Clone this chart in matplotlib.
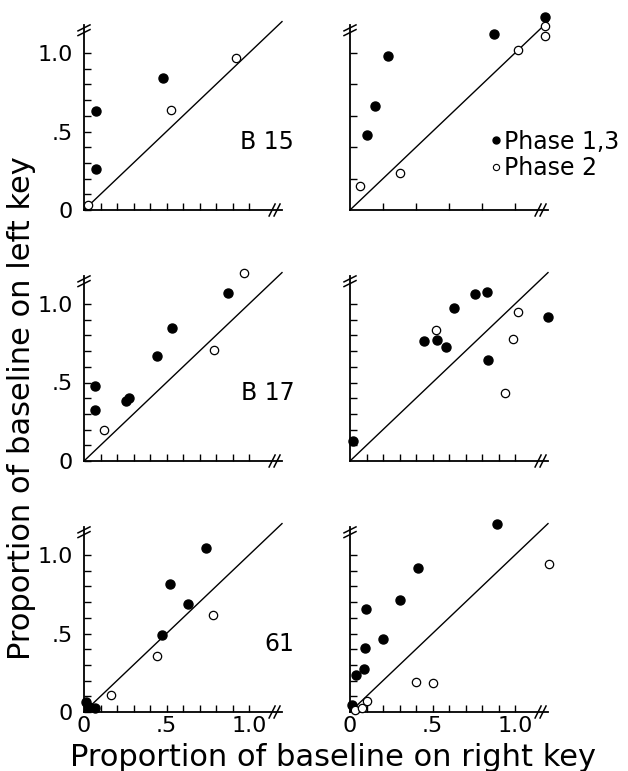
import numpy as np
import matplotlib
matplotlib.use("Agg")
import matplotlib.pyplot as plt
from matplotlib.lines import Line2D

plt.rcParams['font.family'] = ['DejaVu Sans']

# Valores (cheio = fase 1,3 ; vazio = fase 2)
b15_full_x = [0.07, 0.075, 0.48]
b15_full_y = [0.26, 0.63, 0.84]
b15_open_x = [0.025, 0.53, 0.92]
b15_open_y = [0.03, 0.64, 0.97]

tr_full_x = [0.10, 0.15, 0.23, 0.87, 1.18]
tr_full_y = [0.475, 0.665, 0.98, 1.12, 1.23]
tr_open_x = [0.06, 0.305, 1.02, 1.18, 1.18]
tr_open_y = [0.15, 0.235, 1.02, 1.17, 1.11]

b17_full_x = [0.065, 0.065, 0.255, 0.27, 0.44, 0.535, 0.87]
b17_full_y = [0.48, 0.325, 0.38, 0.40, 0.67, 0.85, 1.07]
b17_open_x = [0.12, 0.79, 0.97]
b17_open_y = [0.20, 0.705, 1.20]

mr_full_x = [0.018, 0.45, 0.527, 0.584, 0.632, 0.757, 0.828, 0.838, 1.20]
mr_full_y = [0.125, 0.767, 0.773, 0.727, 0.975, 1.063, 1.078, 0.646, 0.917]
mr_open_x = [0.52, 1.016, 0.99, 0.94]
mr_open_y = [0.835, 0.947, 0.775, 0.43]

s61_full_x = [0.015, 0.03, 0.065, 0.47, 0.52, 0.63, 0.74]
s61_full_y = [0.065, 0.035, 0.025, 0.49, 0.815, 0.685, 1.045]
s61_open_x = [0.165, 0.44, 0.78]
s61_open_y = [0.11, 0.355, 0.62]

br_full_x = [0.01, 0.035, 0.085, 0.09, 0.095, 0.20, 0.30, 0.415, 0.89]
br_full_y = [0.045, 0.235, 0.275, 0.405, 0.655, 0.465, 0.715, 0.915, 1.20]
br_open_x = [0.03, 0.075, 0.105, 0.40, 0.50, 1.205]
br_open_y = [0.01, 0.025, 0.068, 0.19, 0.185, 0.94]

names = ["B 15", "", "B 17", "", "61", ""]
tick_steps = [0.1, 0.2, 0.1, 0.1, 0.1, 0.1]
tick_labels = {0.0: "0", 0.5: ".5", 1.0: "1.0"}
legend_labels = ["Phase 1,3", "Phase 2"]

panels = [
    (b15_full_x, b15_full_y, b15_open_x, b15_open_y),
    (tr_full_x, tr_full_y, tr_open_x, tr_open_y),
    (b17_full_x, b17_full_y, b17_open_x, b17_open_y),
    (mr_full_x, mr_full_y, mr_open_x, mr_open_y),
    (s61_full_x, s61_full_y, s61_open_x, s61_open_y),
    (br_full_x, br_full_y, br_open_x, br_open_y),
]

# layout em pixels
W, H, DPI = 628, 771, 100
SX, SY = 165.0, 157.0          # pixels por unidade
LIM = 1.25
DIAG_END = 1.2
col_x = [84, 350]
row_y = [210, 461, 712]

fig = plt.figure(figsize=(W / DPI, H / DPI), dpi=DPI)


def draw_breaks(ax):
    dx, dy = 1 / SX, 1 / SY
    for xb in (1.14, 1.17):
        ax.plot([xb - 3 * dx, xb + 3 * dx], [-6 * dy, 6 * dy], color='k', lw=1.1, clip_on=False)
    for yb in (1.13, 1.16):
        ax.plot([-6 * dx, 6 * dx], [yb - 3 * dy, yb + 3 * dy], color='k', lw=1.1, clip_on=False)


axes = []
for i, (fx, fy, ox, oy) in enumerate(panels):
    r, c = divmod(i, 2)
    ax = fig.add_axes([col_x[c] / W, (H - row_y[r]) / H, LIM * SX / W, LIM * SY / H])
    axes.append(ax)
    ax.set_xlim(0, LIM)
    ax.set_ylim(0, LIM)
    ax.patch.set_visible(False)
    for s in ('top', 'right'):
        ax.spines[s].set_visible(False)
    ax.spines['left'].set_bounds(0, 1.18)
    ax.spines['bottom'].set_bounds(0, 1.2)
    for s in ('left', 'bottom'):
        ax.spines[s].set_linewidth(1.3)

    step = tick_steps[i]
    ticks = np.round(np.arange(step, 1.0 + 1e-9, step), 2)
    if c == 0:
        ticks_y = np.concatenate([[0.0], ticks])
        ax.set_yticks(ticks_y, [tick_labels.get(float(t), "") for t in ticks_y])
    else:
        ax.set_yticks(ticks, [""] * len(ticks))
    if r == 2:
        ticks_x = np.concatenate([[0.0], ticks])
        ax.set_xticks(ticks_x, [tick_labels.get(float(t), "") for t in ticks_x])
    else:
        ax.set_xticks(ticks, [""] * len(ticks))
    ax.tick_params(direction='in', length=5, width=1.0, labelsize=16)
    ax.tick_params(axis='y', pad=8)
    ax.tick_params(axis='x', pad=3)

    ax.plot([0, DIAG_END], [0, DIAG_END], color='k', lw=1.0, zorder=2)
    ax.plot(fx, fy, 'o', ms=6.5, color='k', ls='none', zorder=3, clip_on=False)
    ax.plot(ox, oy, 'o', ms=6, mfc='white', mec='k', mew=0.9, ls='none', zorder=3, clip_on=False)
    draw_breaks(ax)

    if names[i]:
        ax.text(1.02, 0.31, names[i], transform=ax.transAxes, ha='right', va='baseline', fontsize=17)

# legenda no painel superior direito
h1 = Line2D([], [], ls='none', marker='o', ms=5, color='k')
h2 = Line2D([], [], ls='none', marker='o', ms=4.5, mfc='white', mec='k', mew=0.8)
axes[1].legend([h1, h2], legend_labels, loc='upper left', bbox_to_anchor=(0.685, 0.41),
               frameon=False, fontsize=17, handlelength=0.4, handletextpad=0.12,
               labelspacing=0.12, borderpad=0, borderaxespad=0)

fig.text(333 / W, 1 - 766 / H, "Proportion of baseline on right key", ha='center', va='baseline', fontsize=22)
fig.text(22 / W, 1 - 408 / H, "Proportion of baseline on left key", rotation=90, ha='center', va='center', fontsize=22)

fig.savefig("out.png", dpi=DPI)
